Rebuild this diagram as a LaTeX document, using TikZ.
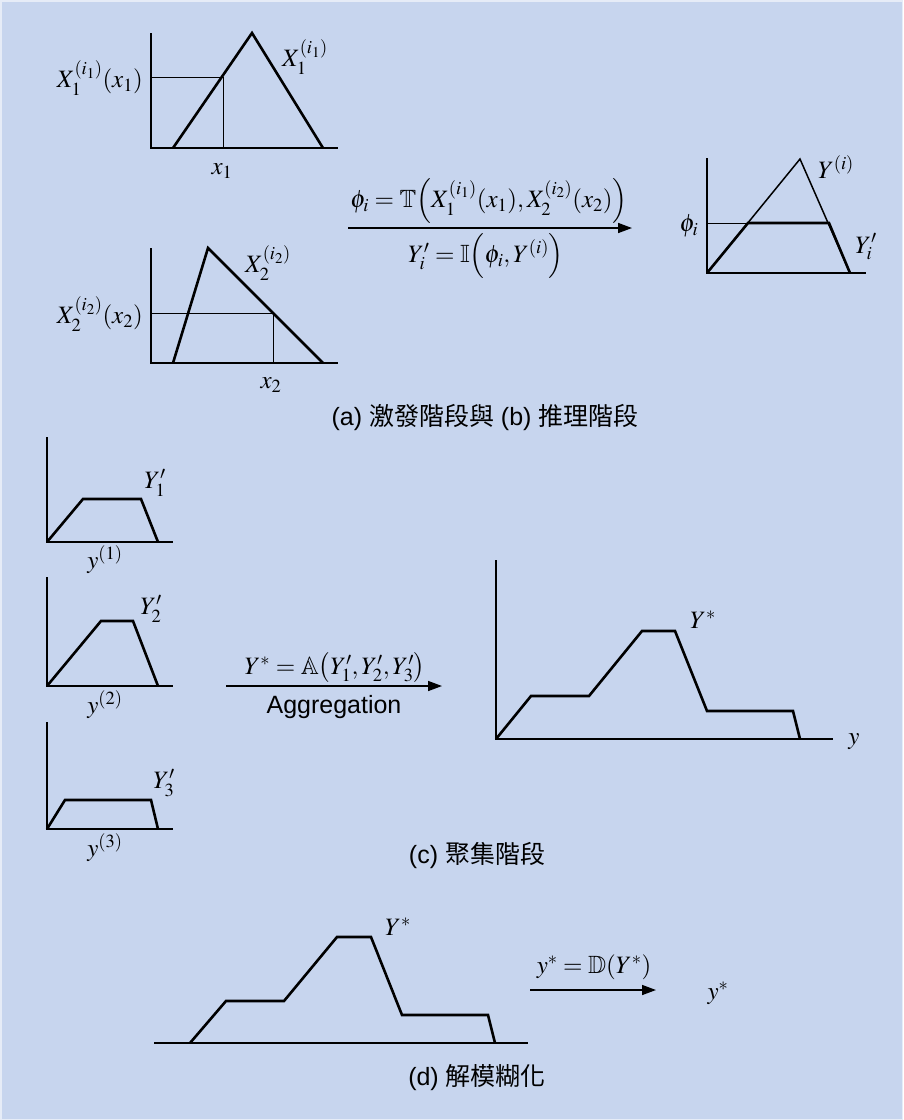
\documentclass[tikz,border=0pt]{standalone}
\usepackage{amsmath,amssymb}
\usepackage{mathptmx}
\usepackage[no-math]{fontspec}
\setsansfont{Liberation Sans}
\newfontfamily\cjk{Noto Sans CJK TC}
\usetikzlibrary{arrows.meta}
\definecolor{bgblue}{RGB}{199,213,238}

\begin{document}
\begin{tikzpicture}[x=1pt,y=-1pt,
    axis/.style={line width=1.5pt},
    curve/.style={line width=2.6pt, line join=miter},
    guide/.style={line width=0.9pt},
    lbl/.style={inner sep=0pt, font=\fontsize{25}{29}\selectfont},
    caption/.style={inner sep=0pt, font=\sffamily\fontsize{25}{29}\selectfont},
    stage/.style={line width=1.6pt, -{Triangle[length=14pt,width=10pt]}}]
  \path[use as bounding box, fill=bgblue] (0,0) rectangle (903,1120);
  \draw[white!55!bgblue, line width=1.5pt] (0.75,0.75) rectangle (902.25,1119.25);

  % (a) firing: first input
  \draw[axis] (151,33) -- (151,148) -- (338,148);
  \draw[curve] (173,148) -- (252,33) -- (323,148);
  \draw[guide] (151,77) -- (223,77) -- (223,148);
  \node[lbl, anchor=east] (muA) at (143,78) {$X_1^{(i_1)}(x_1)$};
  \node[lbl] (setA) at (305,57) {$X_1^{(i_1)}$};
  \node[lbl] (inA) at (222,171) {$x_1$};

  % (a) firing: second input
  \draw[axis] (151,248) -- (151,363) -- (338,363);
  \draw[curve] (173,363) -- (208,248) -- (323,363);
  \draw[guide] (151,313) -- (273,313) -- (273,363);
  \node[lbl, anchor=east] (muB) at (143,314) {$X_2^{(i_2)}(x_2)$};
  \node[lbl] (setB) at (268,263) {$X_2^{(i_2)}$};
  \node[lbl] (inB) at (271,385) {$x_2$};

  % firing -> implication
  \coordinate (fireL) at (348,228);
  \coordinate (fireR) at (632,228);
  \draw[stage] (fireL) -- (fireR);
  \node[lbl] (fireT) at (489,201)
    {$\phi_i=\mathbb{T}\Bigl(X_1^{(i_1)}(x_1),X_2^{(i_2)}(x_2)\Bigr)$};
  \node[lbl] (fireI) at (486,256) {$Y'_i=\mathbb{I}\Bigl(\phi_i,Y^{(i)}\Bigr)$};

  % (b) implication
  \draw[axis] (707,158) -- (707,273) -- (866,273);
  \draw[axis] (707,273) -- (800,159) -- (850,273);
  \draw[guide] (707,223) -- (748,223);
  \draw[curve] (707,273) -- (748,223) -- (829,223) -- (850,273);
  \node[lbl] (phiB) at (689,226) {$\phi_i$};
  \node[lbl] (ruleB) at (836,167) {$Y^{(i)}$};
  \node[lbl] (outB) at (866,247) {$Y'_i$};

  \node[caption] (capAB) at (485,418) {(a) {\cjk 激發階段與} (b) {\cjk 推理階段}};

  % (c) aggregation: rule outputs
  \draw[axis] (47,437) -- (47,542) -- (173,542);
  \draw[curve] (47,542) -- (83,499) -- (141,499) -- (158,542);
  \node[lbl] (outC1) at (155,483) {$Y'_1$};
  \node[lbl] (dom1) at (105,560) {$y^{(1)}$};

  \draw[axis] (47,577) -- (47,686) -- (173,686);
  \draw[curve] (47,686) -- (101,621) -- (133,621) -- (158,686);
  \node[lbl] (outC2) at (151,609) {$Y'_2$};
  \node[lbl] (dom2) at (105,705) {$y^{(2)}$};

  \draw[axis] (47,722) -- (47,829) -- (173,829);
  \draw[curve] (47,829) -- (65,800) -- (151,800) -- (158,829);
  \node[lbl] (outC3) at (164,783) {$Y'_3$};
  \node[lbl] (dom3) at (105,848) {$y^{(3)}$};

  \coordinate (aggL) at (226,686);
  \coordinate (aggR) at (442,686);
  \draw[stage] (aggL) -- (aggR);
  \node[lbl] (aggA) at (335,668) {$Y^*=\mathbb{A}\bigl(Y'_1,Y'_2,Y'_3\bigr)$};
  \node[caption] (aggTxt) at (334,707) {Aggregation};

  % (c) aggregated set
  \draw[axis] (496,560) -- (496,739) -- (833,739);
  \draw[curve] (496,739) -- (531,696) -- (589,696) -- (642,631) -- (675,631)
    -- (707,711) -- (793,711) -- (800,739);
  \node[lbl] (starC) at (703,620) {$Y^*$};
  \node[lbl] (axC) at (854,742) {$y$};

  \node[caption] (capC) at (477,856) {(c) {\cjk 聚集階段}};

  % (d) defuzzification
  \draw[axis] (154,1043) -- (528,1043);
  \draw[curve] (190,1043) -- (226,1001) -- (284,1001) -- (337,937) -- (371,937)
    -- (402,1015) -- (488,1015) -- (495,1043);
  \node[lbl] (starD) at (398,927) {$Y^*$};
  \coordinate (defL) at (530,990);
  \coordinate (defR) at (656,990);
  \draw[stage] (defL) -- (defR);
  \node[lbl] (defD) at (594,967) {$y^*=\mathbb{D}(Y^*)$};
  \node[lbl] (crisp) at (718,993) {$y^*$};

  \node[caption] (capD) at (477,1078) {(d) {\cjk 解模糊化}};
\end{tikzpicture}
\end{document}
